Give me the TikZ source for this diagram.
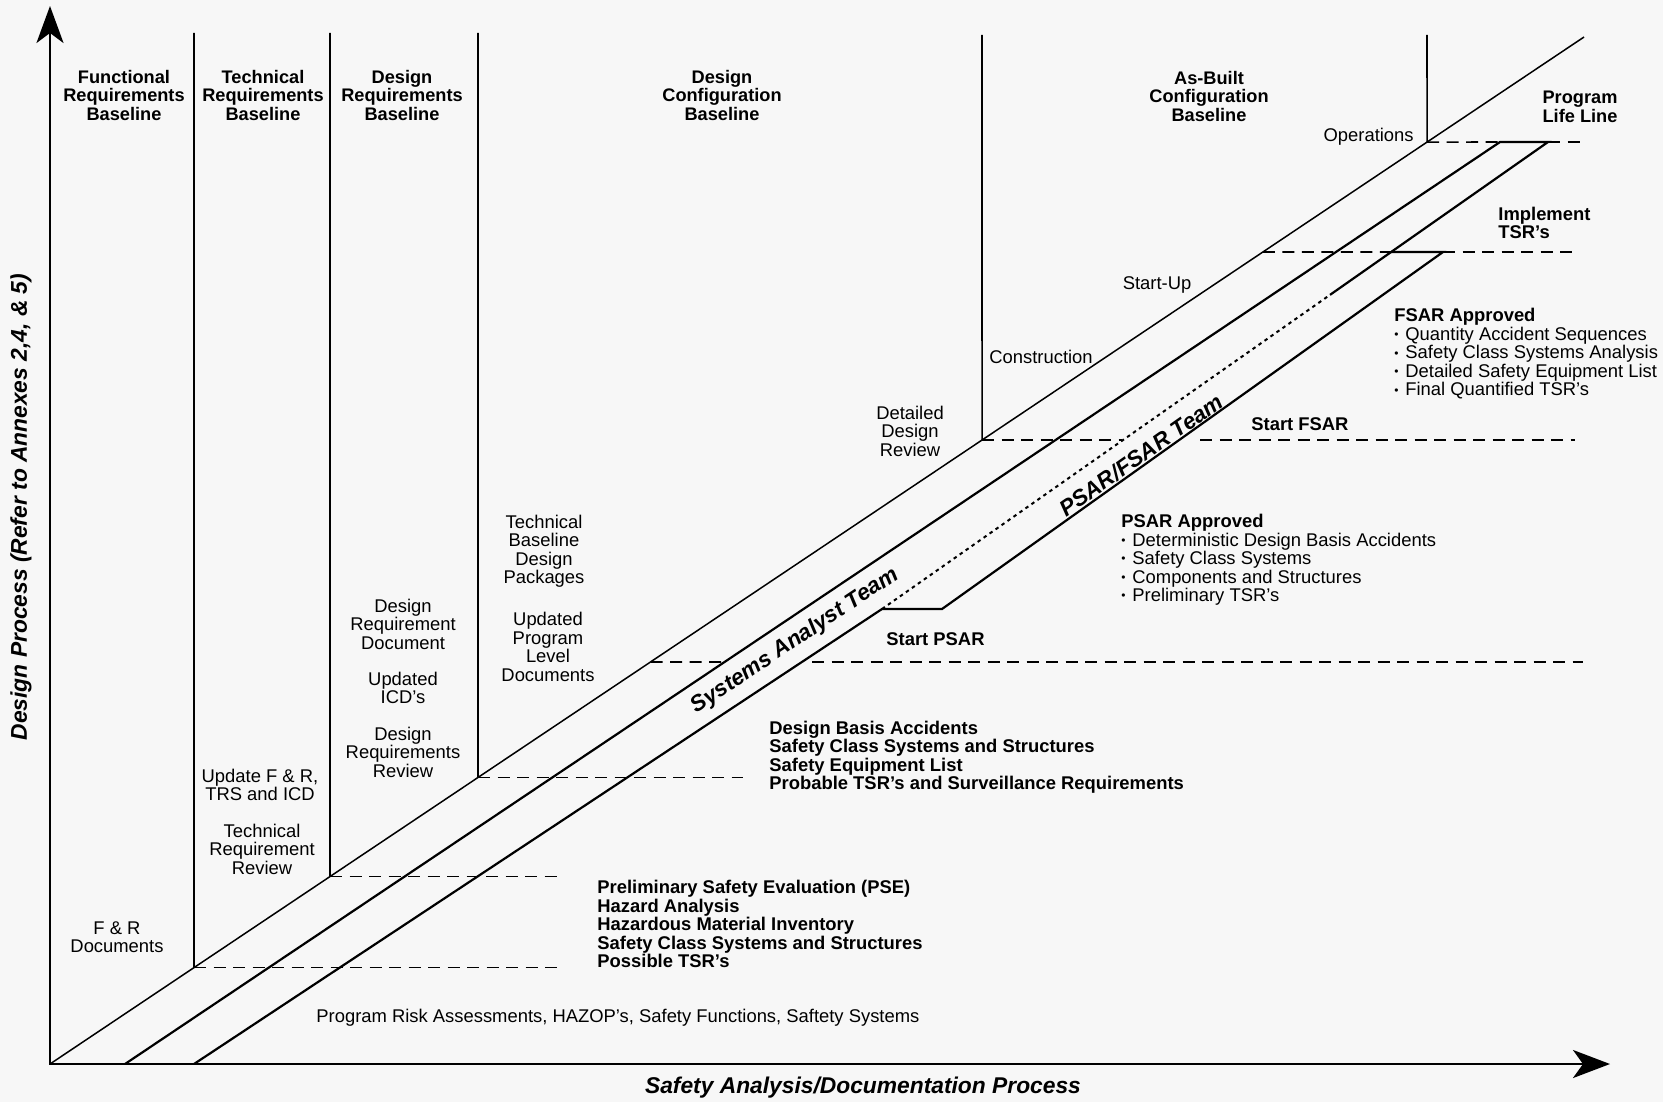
\documentclass[tikz,border=0pt]{standalone}
\usepackage{fontspec}
\setmainfont{Liberation Sans}
\usetikzlibrary{arrows.meta,calc}
\definecolor{paper}{RGB}{247,247,247}
% small bullet used in the approval lists
\newcommand{\dotitem}{\makebox[5.5pt][l]{\fontsize{6}{6}\selectfont\raisebox{0.9pt}{\textbullet}}}

\begin{document}
\begin{tikzpicture}[x=0.5pt,y=-0.5pt,
  txt/.style={inner sep=0pt, align=center, font=\fontsize{9.2}{9.25}\selectfont},
  boldtxt/.style={inner sep=0pt, align=center, font=\fontsize{9.1}{9.25}\selectfont\bfseries},
  lblock/.style={inner sep=0pt, anchor=west, align=left, font=\fontsize{9.2}{9.25}\selectfont},
  lbold/.style={lblock, font=\fontsize{9.2}{9.25}\selectfont\bfseries},
  team/.style={inner sep=0pt, font=\fontsize{11.25}{12}\selectfont\bfseries\itshape},
  axislabel/.style={inner sep=0pt, font=\fontsize{11.4}{12}\selectfont\bfseries\itshape},
  axisline/.style={line width=1.4pt, {Stealth[length=18.5pt,width=13.5pt,inset=5pt]}-{Stealth[length=18.5pt,width=14pt,inset=5pt]}},
  lifeline/.style={line width=0.75pt},
  bandline/.style={line width=1.1pt},
  phaseline/.style={line width=0.8pt},
  milestone/.style={line width=0.8pt, dash pattern=on 6pt off 3.75pt},
  handoff/.style={line width=1pt, dash pattern=on 1.75pt off 1.9pt},
]
% page
\fill[paper] (0,0) rectangle (1663,1102);
\useasboundingbox (0,0) rectangle (1663,1102);

% ---- key points ----
\coordinate (O) at (50,1064);
\coordinate (Ytip) at (50,6);
\coordinate (Xtip) at (1610,1064);
\coordinate (A1) at (1584,37);
\coordinate (B0) at (125,1064);
\coordinate (B1) at (1500,142);
\coordinate (C0) at (194,1064);
\coordinate (Cs) at (882,609);
\coordinate (Ct) at (1548,142);
\coordinate (Cdot) at ($(Cs)!0.6727!(Ct)$);
\coordinate (Cd) at (intersection cs: first line={(Cs)--(Ct)}, second line={(0,252)--(1,252)});
\coordinate (Ds) at (942,609);
\coordinate (Dt) at (1443,252);

% phase boundaries: top ends and feet on the life line
\coordinate (t1) at (194,33);
\coordinate (t2) at (330,33);
\coordinate (t3) at (478,33);
\coordinate (t4) at (982,35);
\coordinate (t5) at (1427,35);
\coordinate (f1) at (intersection cs: first line={(O)--(A1)}, second line={(t1)--(194,1000)});
\coordinate (f2) at (intersection cs: first line={(O)--(A1)}, second line={(t2)--(330,1000)});
\coordinate (f3) at (intersection cs: first line={(O)--(A1)}, second line={(t3)--(478,1000)});
\coordinate (f4) at (intersection cs: first line={(O)--(A1)}, second line={(t4)--(982,1000)});
\coordinate (f5) at (intersection cs: first line={(O)--(A1)}, second line={(t5)--(1427,1000)});
\coordinate (m662) at (intersection cs: first line={(O)--(A1)}, second line={(0,662)--(1,662)});
\coordinate (b662) at (intersection cs: first line={(B0)--(B1)}, second line={(0,662)--(1,662)});
\coordinate (m252) at (intersection cs: first line={(O)--(A1)}, second line={(0,252)--(1,252)});

% ---- axes ----
\draw[axisline] (Ytip) -- (O) -- (Xtip);

% ---- phase boundaries ----
\foreach \i in {1,...,5} \draw[phaseline] (t\i) -- (f\i);

% ---- milestone levels ----
\draw[milestone] (f1) -- ++(364,0);
\draw[milestone] (f2) -- ++(228,0);
\draw[milestone] (f3) -- ++(265,0);
\draw[milestone] (m662) -- (b662);
\draw[milestone] (812,662) -- (1583,662);
\draw[milestone] (f4) -- ++(140,0);
\draw[milestone] ($(f4)+(218,0)$) -- ++(375,0);
\draw[milestone] (m252) -- (Cd);
\draw[milestone] (Dt) -- ++(135,0);
\draw[milestone] (f5) -- (B1);
\draw[milestone] (Ct) -- ++(34,0);

% ---- program life line and team bands ----
\draw[lifeline] (O) -- (A1);
\draw[bandline, line join=miter] (B0) -- (B1) -- (Ct) -- (Cdot);
\draw[bandline, line join=miter] (C0) -- (Cs) -- (Ds) -- (Dt) -- (Cd);
\draw[handoff] (Cs) -- (Cdot);

% ---- column headings ----
\node[boldtxt] (hfr) at (124,95) {Functional\\Requirements\\Baseline};
\node[boldtxt] (htr) at (263,95) {Technical\\Requirements\\Baseline};
\node[boldtxt] (hdr) at (402,95) {Design\\Requirements\\Baseline};
\node[boldtxt] (hdc) at (722,95) {Design\\Configuration\\Baseline};
\node[boldtxt] (hab) at (1209,96) {As-Built\\Configuration\\Baseline};
\node[boldtxt] (hpl) at (1580,107) {Program\\Life Line};

% ---- design process entries ----
\node[txt, anchor=east] (ops) at (1414,137) {Operations};
\node[txt] (su) at (1157,285) {Start-Up};
\node[txt, anchor=west] (con) at (989,357) {Construction};
\node[txt] (ddr) at (910,431) {Detailed\\Design\\Review};
\node[txt] (tbd) at (544,551) {Technical\\Baseline\\Design\\Packages};
\node[txt] (upl) at (548,647) {Updated\\Program\\Level\\Documents};
\node[txt] (drd) at (403,624) {Design\\Requirement\\Document};
\node[txt] (uicd) at (403,688) {Updated\\ICD's};
\node[txt] (drr) at (403,752) {Design\\Requirements\\Review};
\node[txt] (ufr) at (260,785) {Update F \& R,\\TRS and ICD};
\node[txt] (trr) at (262,849) {Technical\\Requirement\\Review};
\node[txt] (frd) at (117,937) {F \& R\\Documents};
\node[lblock] (pra) at (316,1018) {Program Risk Assessments, HAZOP's, Safety Functions, Saftety Systems};

% ---- safety analysis entries ----
\node[lbold] (pse) at (597,924) {Preliminary Safety Evaluation (PSE)\\Hazard Analysis\\Hazardous Material Inventory\\Safety Class Systems and Structures\\Possible TSR's};
\node[lbold] (dba) at (769,757) {Design Basis Accidents\\Safety Class Systems and Structures\\Safety Equipment List\\Probable TSR's and Surveillance Requirements};
\node[lbold] (spsar) at (886,639) {Start PSAR};
\node[lblock] (psar) at (1121,560) {\textbf{PSAR Approved}\\\dotitem Deterministic Design Basis Accidents\\\dotitem Safety Class Systems\\\dotitem Components and Structures\\\dotitem Preliminary TSR's};
\node[lbold] (sfsar) at (1251,424) {Start FSAR};
\node[lblock] (fsar) at (1394,354) {\textbf{FSAR Approved}\\\dotitem Quantity Accident Sequences\\\dotitem Safety Class Systems Analysis\\\dotitem Detailed Safety Equipment List\\\dotitem Final Quantified TSR's};
\node[lbold] (imp) at (1498,223) {Implement\\TSR's};

% ---- team labels along the bands ----
\node[team, rotate=33.8] (sat) at (795,641) {Systems Analyst Team};
\node[team, rotate=35.1] (pft) at (1141,455) {PSAR/FSAR Team};

% ---- axis titles ----
\node[axislabel, rotate=90] (ylab) at (21,507) {Design Process (Refer to Annexes 2,4, \& 5)};
\node[axislabel] (xlab) at (863,1088) {Safety Analysis/Documentation Process};
\end{tikzpicture}
\end{document}
